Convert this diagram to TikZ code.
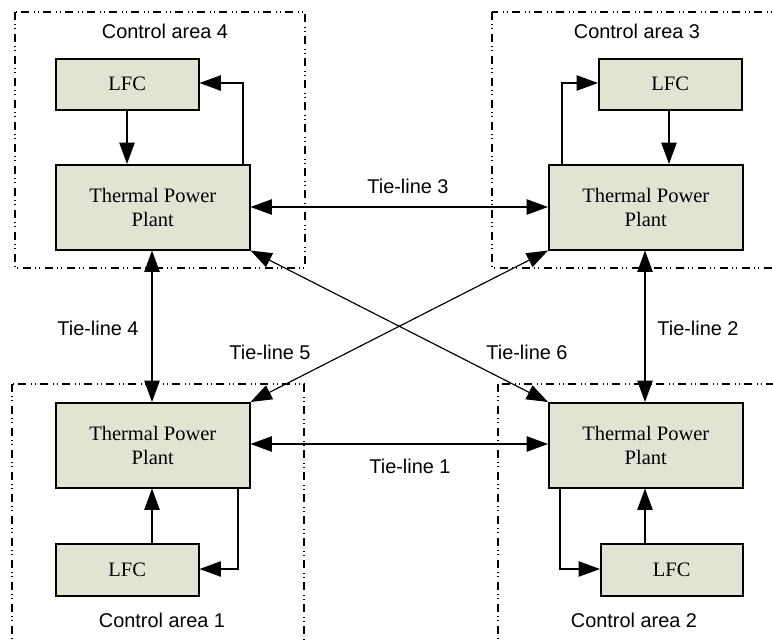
\documentclass[tikz,border=0pt]{standalone}
\usepackage{fontspec}
\setmainfont{Liberation Serif}
\setsansfont{Liberation Sans}
\usetikzlibrary{arrows.meta}
\definecolor{boxfill}{RGB}{224,228,210}
\tikzset{
  blk/.style={draw=black, line width=1.3pt, fill=boxfill, inner sep=0pt, anchor=north west, font=\fontsize{17.5}{20.5}\selectfont, align=center},
  area/.style={draw=black, line width=0.9pt, dash pattern=on 0.24cm off 0.12cm on 0.03cm off 0.09cm on 0.03cm off 0.15cm},
  conn/.style={line width=1.0pt, -{Triangle[length=0.64cm,width=0.46cm]}},
  biconn/.style={line width=1.0pt, {Triangle[length=0.64cm,width=0.46cm]}-{Triangle[length=0.64cm,width=0.46cm]}},
  lbl/.style={font=\sffamily\fontsize{17}{20}\selectfont, inner sep=0pt}
}
\begin{document}
\begin{tikzpicture}[x=0.03cm, y=-0.03cm]
\useasboundingbox (0,0) rectangle (773,640);
\clip (0,0) rectangle (773,640);
% control areas
\draw[area] (15,12) rectangle (305,268);
\draw[area] (492,12) rectangle (800,268);
\draw[area] (12,384) rectangle (304,660);
\draw[area] (498,384) rectangle (800,660);
% area 4
\node[blk, minimum width=143*0.03cm, minimum height=51*0.03cm] (lfc4) at (55,58) {LFC};
\node[blk, minimum width=194*0.03cm, minimum height=85*0.03cm] (tpp4) at (55,164) {Thermal Power\\Plant};
% area 3
\node[blk, minimum width=143*0.03cm, minimum height=51*0.03cm] (lfc3) at (598,58) {LFC};
\node[blk, minimum width=194*0.03cm, minimum height=85*0.03cm] (tpp3) at (548,164) {Thermal Power\\Plant};
% area 1
\node[blk, minimum width=194*0.03cm, minimum height=85*0.03cm] (tpp1) at (55,402) {Thermal Power\\Plant};
\node[blk, minimum width=143*0.03cm, minimum height=52*0.03cm] (lfc1) at (55,543) {LFC};
% area 2
\node[blk, minimum width=194*0.03cm, minimum height=85*0.03cm] (tpp2) at (548,402) {Thermal Power\\Plant};
\node[blk, minimum width=142*0.03cm, minimum height=52*0.03cm] (lfc2) at (600,543) {LFC};
% labels
\node[lbl] (ca4) at (165,31) {Control area 4};
\node[lbl] (ca3) at (637,31) {Control area 3};
\node[lbl] (ca1) at (162,620) {Control area 1};
\node[lbl] (ca2) at (634,620) {Control area 2};
% intra-area connectors
\coordinate (f4) at (243,83);
\draw[conn] (lfc4.south -| 127,0) -- (tpp4.north -| 127,0);
\draw[conn] (tpp4.north -| f4) -- (f4) -- (lfc4.east |- f4);
\coordinate (f3) at (562,83);
\draw[conn] (lfc3.south -| 669,0) -- (tpp3.north -| 669,0);
\draw[conn] (tpp3.north -| f3) -- (f3) -- (lfc3.west |- f3);
\coordinate (f1) at (238,569);
\draw[conn] (lfc1.north -| 152,0) -- (tpp1.south -| 152,0);
\draw[conn] (tpp1.south -| f1) -- (f1) -- (lfc1.east |- f1);
\coordinate (f2) at (560,569);
\draw[conn] (lfc2.north -| 645,0) -- (tpp2.south -| 645,0);
\draw[conn] (tpp2.south -| f2) -- (f2) -- (lfc2.west |- f2);
% tie lines
\draw[biconn] (tpp4.east |- 0,207) -- (tpp3.west |- 0,207);
\draw[biconn] (tpp1.east |- 0,444) -- (tpp2.west |- 0,444);
\draw[biconn] (tpp4.south -| 152,0) -- (tpp1.north -| 152,0);
\draw[biconn] (tpp3.south -| 645,0) -- (tpp2.north -| 645,0);
\draw[biconn] (tpp3.south west) -- (tpp1.north east);
\draw[biconn] (tpp4.south east) -- (tpp2.north west);
\node[lbl] (t3) at (408,186) {Tie-line 3};
\node[lbl] (t1) at (410,466) {Tie-line 1};
\node[lbl] (t4) at (98,328) {Tie-line 4};
\node[lbl] (t2) at (698,328) {Tie-line 2};
\node[lbl] (t5) at (270,352) {Tie-line 5};
\node[lbl] (t6) at (527,352) {Tie-line 6};
\end{tikzpicture}
\end{document}
